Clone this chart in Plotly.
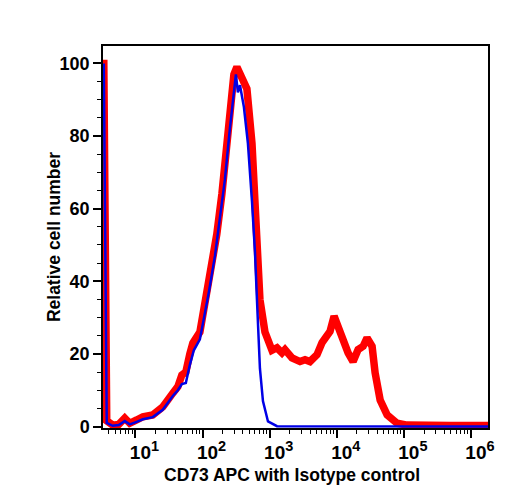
import plotly.graph_objects as go

# CD73 APC (red) histogram
cd73_x = [3.37, 3.73, 4.58, 5.63, 6.92, 8.22, 10.4, 12.9, 18.1, 25.5, 36.0, 42.8, 49.1, 56.3,
          64.6, 71.6, 91.2, 105, 116, 143, 163, 194, 231, 255, 293, 325, 361, 399, 458, 545,
          646, 716, 851, 1082, 1285, 1527, 1691, 2153, 2833, 3365, 3990, 5080, 6040, 7170,
          7940, 9120, 10450, 12400, 14750, 17500, 20800, 24700, 28300, 33600, 37300, 44300,
          56300, 79400, 112000, 500000, 1800000]
cd73_y = [101, 1.6, 0.4, 0.6, 2.3, 0.9, 1.8, 2.7, 3.2, 5.4, 9.2, 11, 14.2, 15,
          20, 23, 26, 32, 37, 46, 53, 64, 77, 85, 97, 99, 97, 95, 93, 78,
          50, 35, 26, 21, 21.7, 20.3, 21.2, 18.9, 17.9, 18.4, 17.9, 19.8, 23.1, 25.3,
          26.2, 30.4, 27.6, 23.1, 20.3, 17.9, 21.2, 22.1, 24.4, 22.1, 14.8, 7.3,
          3.2, 0.9, 0.4, 0.3, 0.3]

# Isotype control (blue) histogram
iso_x = [3.37, 3.73, 4.58, 5.63, 6.92, 8.22, 10.4, 12.9, 18.1, 25.5, 36.0, 42.8, 49.1, 56.3,
         64.6, 74.1, 91.2, 108, 124, 153, 181, 215, 255, 293, 314, 336, 361, 413, 474, 545,
         604, 646, 716, 794, 944, 1285, 100000, 1800000]
iso_y = [100, 1.0, 0.2, 0.4, 1.5, 0.6, 1.3, 2.0, 2.6, 4.6, 8.4, 10, 11.7, 12,
         17, 21, 24, 31, 37, 47, 57, 68, 82, 93, 97, 92, 94, 88, 78, 62,
         48, 35, 16, 7, 1.4, 0.1, 0, 0]

xtick_vals = [10, 100, 1000, 10000, 100000, 1000000]
xtick_exps = ["1", "2", "3", "4", "5", "6"]
ytick_vals = [0, 20, 40, 60, 80, 100]
x_title = "CD73 APC with Isotype control"
y_title = "Relative cell number"

xtick_text = ["10<sup><span style='font-size:14.5px'>" + e + "</span></sup>" for e in xtick_exps]
minor_x = [m * 10 ** e for e in range(0, 7) for m in range(2, 10)]

fig = go.Figure()
fig.add_trace(go.Scatter(x=cd73_x, y=cd73_y, mode="lines",
                         line=dict(color="#ff0000", width=7.5), showlegend=False))
fig.add_trace(go.Scatter(x=iso_x, y=iso_y, mode="lines",
                         line=dict(color="#0000e6", width=2.5), showlegend=False))

font_family = "Liberation Sans"
fig.update_layout(
    width=508, height=500,
    margin=dict(l=103, r=20, t=46, b=72),
    plot_bgcolor="white", paper_bgcolor="white",
    font=dict(family=font_family, color="black"),
    xaxis=dict(
        type="log", range=[0.516, 6.254],
        tickvals=xtick_vals, ticktext=xtick_text,
        ticks="outside", ticklen=8, tickwidth=1.5, tickcolor="black",
        tickfont=dict(size=19, family=font_family, weight="bold"),
        ticklabelshift=9, ticklabelstandoff=-2,
        minor=dict(tickvals=minor_x, ticks="outside", ticklen=4, tickwidth=1, tickcolor="black"),
        showline=True, linecolor="black", linewidth=1.5, mirror=True,
        showgrid=False, zeroline=False,
    ),
    yaxis=dict(
        range=[-0.4, 104.8],
        tickvals=ytick_vals,
        ticks="outside", ticklen=8, tickwidth=1.5, tickcolor="black",
        tickfont=dict(size=18, family=font_family, weight="bold"),
        minor=dict(dtick=5, ticks="outside", ticklen=4, tickwidth=1, tickcolor="black"),
        showline=True, linecolor="black", linewidth=1.5, mirror=True,
        showgrid=False, zeroline=False,
    ),
    annotations=[
        dict(text="<b>" + x_title + "</b>", xref="paper", yref="paper",
             x=0.492, y=-0.122, xanchor="center", yanchor="middle",
             showarrow=False, font=dict(size=17.5, family=font_family, color="black")),
        dict(text="<b>" + y_title + "</b>", xref="paper", yref="paper",
             x=-0.127, y=0.5, xanchor="center", yanchor="middle", textangle=-90,
             showarrow=False, font=dict(size=17.5, family=font_family, color="black")),
    ],
)

fig.write_html("out.html")
